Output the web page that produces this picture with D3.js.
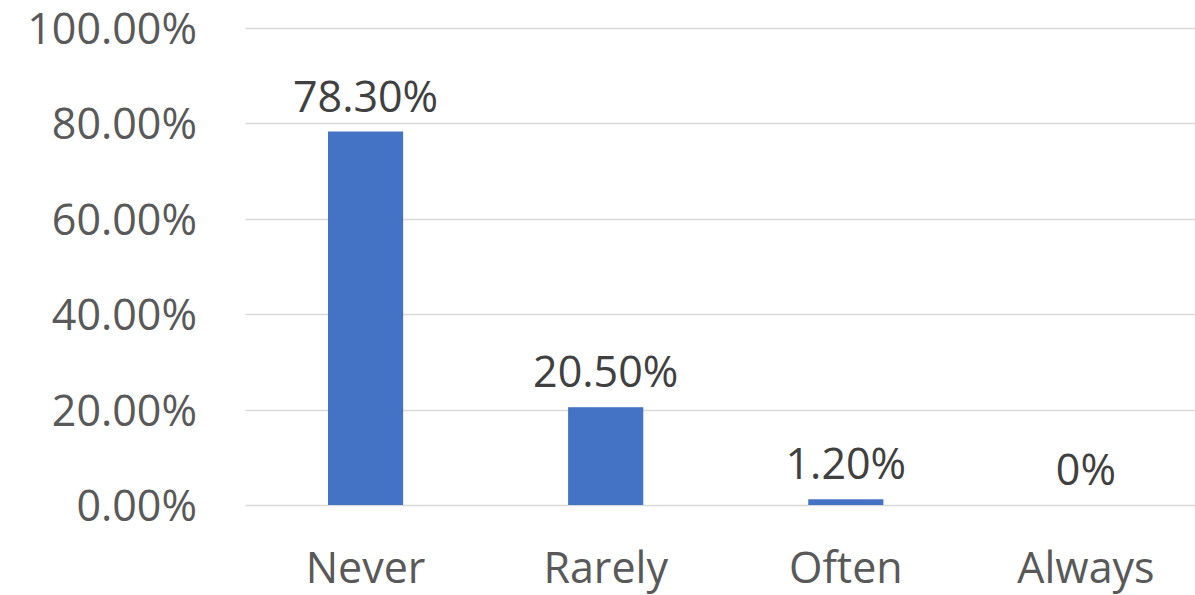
<!DOCTYPE html>
<html>
<head>
<meta charset="utf-8">
<script src="https://cdn.jsdelivr.net/npm/d3@7"></script>
<style>
  html, body { margin: 0; padding: 0; background: #fff; }
  svg { display: block; font-family: "Open Sans", "Noto Sans", sans-serif; }
</style>
</head>
<body>
<svg id="chart" width="1195" height="595"></svg>
<script>
// Response frequencies (share of respondents)
const categories = ["Never", "Rarely", "Often", "Always"];
const values = [0.783, 0.205, 0.012, 0];
const valueLabels = ["78.30%", "20.50%", "1.20%", "0%"];
const yTicks = [0, 0.2, 0.4, 0.6, 0.8, 1.0];

const svg = d3.select("#chart");
const W = 1195, H = 595;
const plotLeft = 245.5, plotRight = 1206, plotTop = 28, plotBottom = 505;

const x = d3.scaleBand()
  .domain(categories)
  .range([plotLeft, plotRight])
  .paddingInner(0.687)
  .paddingOuter(0.3435);

const y = d3.scaleLinear().domain([0, 1]).range([plotBottom, plotTop]);

// Horizontal gridlines
svg.append("g")
  .selectAll("line")
  .data(yTicks)
  .join("line")
  .attr("x1", plotLeft)
  .attr("x2", W)
  .attr("y1", d => Math.round(y(d)) + 0.5)
  .attr("y2", d => Math.round(y(d)) + 0.5)
  .attr("stroke", "#D9D9D9")
  .attr("stroke-width", 1.5);

// Y axis tick labels
const yAxis = d3.axisLeft(y)
  .tickValues(yTicks)
  .tickFormat(d3.format(".2%"))
  .tickSize(0)
  .tickPadding(0);

const gy = svg.append("g")
  .attr("transform", `translate(197,0)`)
  .call(yAxis);
gy.select(".domain").remove();
gy.selectAll("text")
  .attr("fill", "#595959")
  .attr("font-size", 43)
  .attr("font-family", "'Open Sans', sans-serif")
  .attr("dy", "0.36em");

// Bars
svg.append("g")
  .selectAll("rect")
  .data(categories)
  .join("rect")
  .attr("x", d => x(d))
  .attr("width", x.bandwidth())
  .attr("y", (d, i) => y(values[i]))
  .attr("height", (d, i) => y(0) - y(values[i]))
  .attr("fill", "#4472C4");

// Data labels above bars
svg.append("g")
  .selectAll("text")
  .data(categories)
  .join("text")
  .attr("x", d => x(d) + x.bandwidth() / 2)
  .attr("y", (d, i) => y(values[i]) - 20)
  .attr("text-anchor", "middle")
  .attr("fill", "#404040")
  .attr("font-size", 43)
  .text((d, i) => valueLabels[i]);

// X axis category labels
const xAxis = d3.axisBottom(x).tickSize(0).tickPadding(0);
const gx = svg.append("g")
  .attr("transform", `translate(0,${plotBottom})`)
  .call(xAxis);
gx.select(".domain").remove();
gx.selectAll("text")
  .attr("fill", "#595959")
  .attr("font-size", 43)
  .attr("font-family", "'Open Sans', sans-serif")
  .attr("dy", null)
  .attr("y", 78);
</script>
</body>
</html>
